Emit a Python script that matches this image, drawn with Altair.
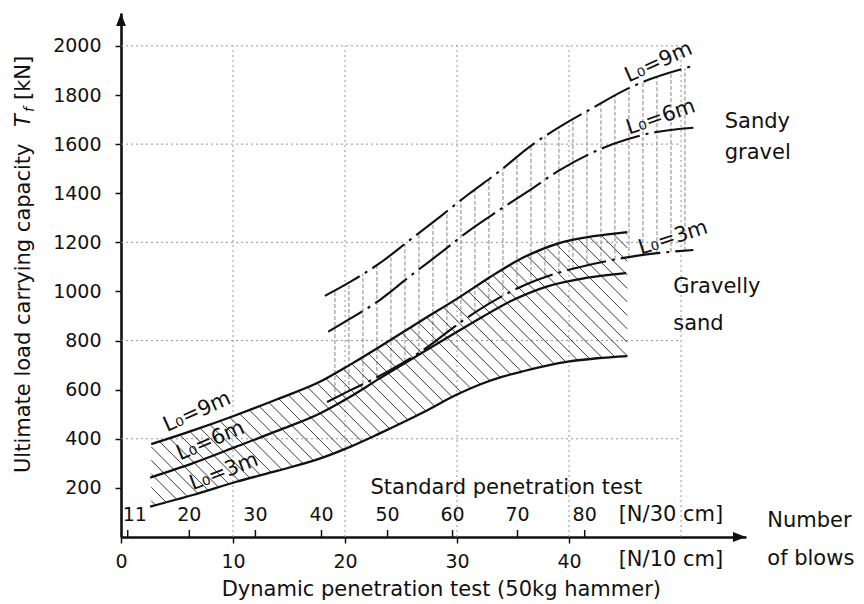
import altair as alt
import numpy as np
import pandas as pd

# ---------------- data ----------------
# Gravelly sand (solid curves), x = dynamic penetration N/10cm, y = Tf [kN]
gs9_x = [2.7, 6.5, 10.3, 14.0, 17.8, 20.5, 23.1, 26.7, 30.3, 33.0, 36.0, 39.2, 42.2, 45.2]
gs9_y = [378, 435, 497, 562, 633, 703, 775, 878, 979, 1060, 1140, 1198, 1225, 1242]
gs6_x = [2.6, 6.5, 10.3, 14.0, 17.8, 20.5, 23.1, 26.7, 29.0, 32.1, 35.0, 38.0, 41.5, 45.1]
gs6_y = [242, 302, 368, 433, 504, 572, 646, 745, 808, 892, 965, 1020, 1055, 1075]
gs3_x = [2.6, 6.5, 10.3, 14.0, 17.8, 20.5, 23.1, 27.0, 30.0, 32.1, 34.0, 35.9, 39.9, 42.5, 45.2]
gs3_y = [124, 172, 225, 270, 320, 368, 422, 508, 580, 622, 652, 675, 714, 728, 737]

# Sandy gravel (dash-dot curves)
sg9_x = [18.2, 20.5, 23.1, 25.8, 28.5, 31.0, 33.8, 36.5, 39.2, 42.1, 45.2, 47.2, 50.9]
sg9_y = [982, 1040, 1115, 1210, 1305, 1395, 1490, 1590, 1671, 1747, 1825, 1864, 1916]
sg6_x = [18.5, 20.5, 23.1, 25.8, 28.5, 31.0, 33.8, 36.5, 39.2, 42.8, 45.2, 47.2, 51.1]
sg6_y = [836, 890, 965, 1062, 1156, 1245, 1332, 1413, 1495, 1580, 1620, 1644, 1667]
sg3_x = [18.4, 20.5, 22.4, 25.0, 27.0, 30.6, 33.4, 36.0, 38.9, 41.0, 43.5, 46.0, 48.1, 51.1]
sg3_y = [550, 598, 640, 705, 762, 884, 965, 1025, 1074, 1100, 1125, 1145, 1157, 1169]

# Axis tick values / labels
dyn_ticks = [0, 10, 20, 30, 40]
y_ticks = [200, 400, 600, 800, 1000, 1200, 1400, 1600, 1800, 2000]
grid_x = [10, 20, 30, 40, 50]
grid_y = [400, 800, 1200, 1600, 2000]
spt_labels = ["11", "20", "30", "40", "50", "60", "70", "80"]
spt_pos = [0.6, 6.1, 12.0, 17.9, 23.8, 29.6, 35.4, 41.4]   # position on the N/10cm scale

# ---------------- layout ----------------
FONT = "DejaVu Sans"
INK = "#111"
W, H = 625, 524
XMAX, YMAX = 55.8, 2134
SX, SY = W / XMAX, H / YMAX   # px per unit

xs = alt.Scale(domain=[0, XMAX], nice=False, zero=False)
ys = alt.Scale(domain=[0, YMAX], nice=False, zero=False)
AX = alt.Axis(values=dyn_ticks, format="d", title=None, grid=False, domainColor=INK, domainWidth=2.6,
              tickColor=INK, tickWidth=1.5, tickSize=6, labelFont=FONT, labelFontSize=19,
              labelColor=INK, labelPadding=9, labelFlush=False, labelOverlap=False)
AY = alt.Axis(values=y_ticks, format="d", title=None, grid=False, domainColor=INK, domainWidth=2.6,
              tickColor=INK, tickWidth=1.5, tickSize=6, labelFont=FONT, labelFontSize=19,
              labelColor=INK, labelPadding=14, labelFlush=False, labelOverlap=False)


def X(f="x"):
    return alt.X(f"{f}:Q", scale=xs, axis=AX)


def Y(f="y"):
    return alt.Y(f"{f}:Q", scale=ys, axis=AY)


def curve_df(name, xv, yv):
    return pd.DataFrame({"x": xv, "y": yv, "curve": name})


gravel_df = pd.concat([curve_df("gs9", gs9_x, gs9_y), curve_df("gs6", gs6_x, gs6_y),
                       curve_df("gs3", gs3_x, gs3_y)])
sandy_df = pd.concat([curve_df("sg9", sg9_x, sg9_y), curve_df("sg6", sg6_x, sg6_y),
                      curve_df("sg3", sg3_x, sg3_y)])


# ---- decorative hatching derived from the curves ----
def diag_hatch(tx, ty, bx, by, step):
    lo, hi = max(tx[0], bx[0]), min(tx[-1], bx[-1])
    g = np.linspace(lo, hi, 3000)
    xp = g * SX
    gT = np.interp(g, tx, ty) * SY + xp
    gB = np.interp(g, bx, by) * SY + xp
    rows = []
    for c in np.arange(gB[0] + step * 0.4, gT[-1], step):
        x1 = np.interp(c, gT, xp)
        x2 = np.interp(c, gB, xp)
        if x2 - x1 < 1.5:
            continue
        rows.append({"x": x1 / SX, "y": (c - x1) / SY, "x2": x2 / SX, "y2": (c - x2) / SY})
    return pd.DataFrame(rows)


diag_df = diag_hatch(gs9_x, gs9_y, gs3_x, gs3_y, 13.5)
vx = np.arange(19.1, 50.6, 1.25)
vert_df = pd.DataFrame({"x": vx, "y": np.interp(vx, sg3_x, sg3_y), "y2": np.interp(vx, sg9_x, sg9_y)})

# ---------------- layers ----------------
gx_df = pd.DataFrame({"x": grid_x, "y": 0, "y2": 2000})
gy_df = pd.DataFrame({"y": grid_y, "x": 0, "x2": 50})
gx = alt.Chart(gx_df).mark_rule(color="#8a8a8a", strokeWidth=0.9, strokeDash=[2, 3]).encode(
    x=X(), y=Y(), y2="y2:Q")
gy = alt.Chart(gy_df).mark_rule(color="#8a8a8a", strokeWidth=0.9, strokeDash=[2, 3]).encode(
    y=Y(), x=X(), x2="x2:Q")

diag = alt.Chart(diag_df).mark_rule(color="#222", strokeWidth=0.9).encode(
    x=X(), y=Y(), x2="x2:Q", y2="y2:Q")
vert = alt.Chart(vert_df).mark_rule(color="#777", strokeWidth=0.9, strokeDash=[4, 2]).encode(
    x=X(), y=Y(), y2="y2:Q")

gravel = alt.Chart(gravel_df).mark_line(color=INK, strokeWidth=2.3, interpolate="monotone").encode(
    x=X(), y=Y(), detail="curve:N")
sandy = alt.Chart(sandy_df).mark_line(color=INK, strokeWidth=2.1, interpolate="monotone",
                                      strokeDash=[40, 6, 3, 6]).encode(
    x=X(), y=Y(), detail="curve:N")

# SPT secondary scale (ticks above the axis)
spt_df = pd.DataFrame({"x": spt_pos, "label": spt_labels,
                       "dx": [7] + [0] * (len(spt_pos) - 1)})
spt_tick = alt.Chart(spt_df).mark_rule(color=INK, strokeWidth=1.5).encode(
    x=X(), y=alt.value(H), y2=alt.value(H - 7))
spt_text = alt.Chart(spt_df).transform_calculate(
    xl="datum.x + datum.dx / %f" % SX).mark_text(
    font=FONT, fontSize=19, color=INK, baseline="middle").encode(
    x=X("xl"), y=alt.value(H - 22), text="label:N")

# curve labels
lab_df = pd.DataFrame({
    "text": ["L₀=9m", "L₀=6m", "L₀=3m", "L₀=9m", "L₀=6m", "L₀=3m"],
    "x": [6.8, 8.0, 9.2, 48.0, 48.2, 49.3],
    "y": [509, 391, 265, 1933, 1709, 1218],
    "angle": [336, 337, 339, 336, 341, 342],
})
curve_labels = alt.Chart(lab_df).mark_text(font=FONT, fontSize=21, color=INK, baseline="middle",
                                           align="center").encode(
    x=X(), y=Y(), text="text:N", angle=alt.Angle("angle:Q", scale=None))

left_df = pd.DataFrame({
    "text": ["Sandy", "gravel", "Gravelly", "sand", "Number", "of blows"],
    "x": [53.9, 53.9, 49.3, 49.3, 57.7, 57.7],
    "y": [1690, 1564, 1018, 868, 65, -90],
})
left_labels = alt.Chart(left_df).mark_text(font=FONT, fontSize=21, color=INK, baseline="middle",
                                           align="left").encode(x=X(), y=Y(), text="text:N")

center_df = pd.DataFrame({
    "text": ["Standard penetration test", "[N/30 cm]", "[N/10 cm]",
             "Dynamic penetration test (50kg hammer)"],
    "x": [34.4, 49.1, 49.1, 28.6],
    "y": [200, 90, -94, -216],
})
center_labels = alt.Chart(center_df).mark_text(font=FONT, fontSize=21, color=INK, baseline="middle",
                                               align="center").encode(x=X(), y=Y(), text="text:N")


# y-axis title pieces (rotated)
def ypiece(txt, ypx, size=21, style="normal", dy=0):
    return alt.Chart(pd.DataFrame({"text": [txt]})).mark_text(
        font=FONT, fontSize=size, fontStyle=style, color=INK, angle=270, align="left",
        baseline="middle", dy=dy).encode(x=alt.value(-97), y=alt.value(ypx), text="text:N")


ytitle = [ypiece("Ultimate load carrying capacity", 460),
          ypiece("T", 114, style="italic"),
          ypiece("f", 99, size=14, style="italic", dy=6),
          ypiece("[kN]", 87)]

# axis arrow heads
arr_up = alt.Chart(pd.DataFrame({"x": [0], "y": [YMAX]})).mark_point(
    shape="M0,0 L0.75,2 L-0.75,2 Z", filled=True, color=INK, size=170, opacity=1).encode(x=X(), y=Y())
arr_right = alt.Chart(pd.DataFrame({"x": [XMAX], "y": [0]})).mark_point(
    shape="M0,0 L-2,-0.75 L-2,0.75 Z", filled=True, color=INK, size=170, opacity=1).encode(x=X(), y=Y())

chart = alt.layer(
    gx, gy, vert, diag, gravel, sandy, spt_tick, spt_text, curve_labels, left_labels,
    center_labels, *ytitle, arr_up, arr_right
).properties(
    width=W, height=H,
    autosize=alt.AutoSizeParams(type="none"),
    padding={"left": 121, "top": 13, "right": 864 - 121 - W, "bottom": 604 - 13 - H},
    background="white",
).configure_view(stroke=None)

chart.save("out.html", embed_options={"renderer": "svg", "actions": False})
